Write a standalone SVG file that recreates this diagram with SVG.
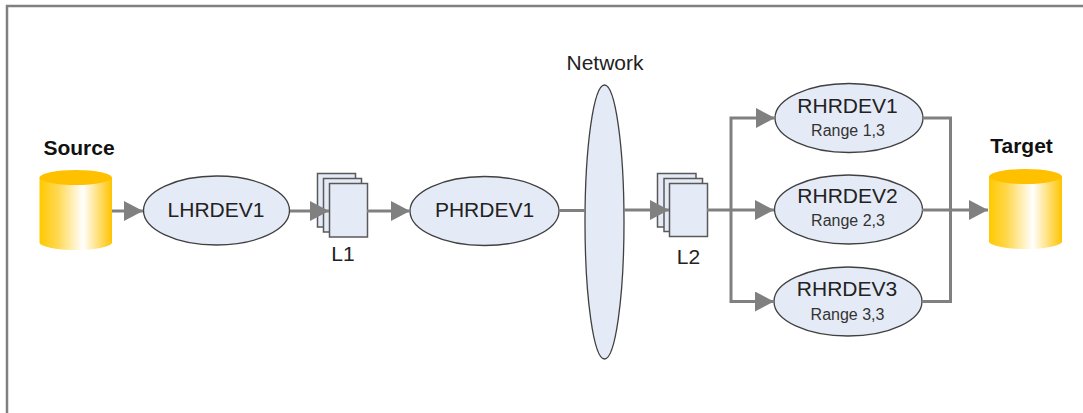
<svg xmlns="http://www.w3.org/2000/svg" width="1083" height="413" viewBox="0 0 1083 413">
<style>
text{font-family:"Liberation Sans",Arial,sans-serif;fill:#222;text-anchor:middle}
.b{font-weight:bold;font-size:21px;fill:#111}
.n{font-size:21px}
.r{font-size:16px;fill:#333}
.e{fill:#e5ebf6;stroke:#404040;stroke-width:1.3}
.p{fill:#e5ebf6;stroke:#595959;stroke-width:1.5}
.c{fill:none;stroke:#808080;stroke-width:3}
.a{marker-end:url(#h)}
</style>
<defs>
<linearGradient id="g"><stop offset="0" stop-color="#ffc900"/><stop offset=".25" stop-color="#ffd850"/><stop offset=".6" stop-color="#fff"/><stop offset="1" stop-color="#ffc400"/></linearGradient>
<marker id="h" markerUnits="userSpaceOnUse" markerWidth="19" markerHeight="20" refX="19" refY="10" orient="auto"><path d="M0 0L19 10L0 20Z" fill="#808080"/></marker>
</defs>
<rect width="1083" height="413" fill="#fff"/>
<path d="M7 413V6H1083" fill="none" stroke="#808080" stroke-width="2.5"/>
<g id="source">
<text class="b" x="79" y="154.500">Source</text>
<path d="M39.500 177.500V242.500A36.250 7.500 0 0 0 112 242.500V177.500Z" fill="url(#g)"/>
<ellipse cx="75.750" cy="177.500" rx="36.250" ry="7.500" fill="#ffc000"/>
</g>
<g id="lhrdev1"><ellipse class="e" cx="216.500" cy="210.500" rx="73" ry="34.500"/><text class="n" x="216" y="216.500">LHRDEV1</text></g>
<g id="l1">
<rect class="p" x="317.500" y="173.500" width="38" height="53.500"/><rect class="p" x="323.500" y="178.500" width="38" height="53.500"/><rect class="p" x="329.500" y="183.500" width="38" height="53.500"/>
<text class="n" x="343" y="260.500">L1</text></g>
<g id="phrdev1"><ellipse class="e" cx="484.500" cy="211" rx="74.500" ry="34.500"/><text class="n" x="484.500" y="217">PHRDEV1</text></g>
<g id="network"><ellipse class="e" cx="604.500" cy="222" rx="19.500" ry="137"/><text class="n" x="605" y="70">Network</text></g>
<g id="l2">
<rect class="p" x="657.500" y="173.500" width="38.500" height="53.500"/><rect class="p" x="664" y="178.500" width="38.500" height="53"/><rect class="p" x="669.500" y="183.500" width="38" height="53"/>
<text class="n" x="688.500" y="264">L2</text></g>
<g id="rhrdev1"><ellipse class="e" cx="849" cy="118" rx="74" ry="34.500"/><text class="n" x="847.500" y="113">RHRDEV1</text><text class="r" x="848" y="136">Range 1,3</text></g>
<g id="rhrdev2"><ellipse class="e" cx="848.500" cy="209.500" rx="74" ry="34.500"/><text class="n" x="847.500" y="202.500">RHRDEV2</text><text class="r" x="848" y="225.500">Range 2,3</text></g>
<g id="rhrdev3"><ellipse class="e" cx="848" cy="301.500" rx="74" ry="34.500"/><text class="n" x="847" y="296">RHRDEV3</text><text class="r" x="847.500" y="320">Range 3,3</text></g>
<g id="target">
<text class="b" x="1021.500" y="152.500">Target</text>
<path d="M989 176.500V241.500A36.500 7.500 0 0 0 1062 241.500V176.500Z" fill="url(#g)"/>
<ellipse cx="1025.500" cy="176.500" rx="36.500" ry="7.500" fill="#ffc000"/>
</g>
<g id="connectors" class="c">
<path class="a" d="M112 211H143"/>
<path class="a" d="M290 211H329"/>
<path class="a" d="M367 211H410"/>
<path d="M559 210.500H585"/>
<path class="a" d="M624 210H669"/>
<path class="a" d="M707 210H774"/>
<path class="a" d="M731 210V118H775"/>
<path class="a" d="M731 210V301.500H774"/>
<path d="M923 118H950.500V301.500H922"/>
<path class="a" d="M922 210H988"/>
</g>
</svg>
